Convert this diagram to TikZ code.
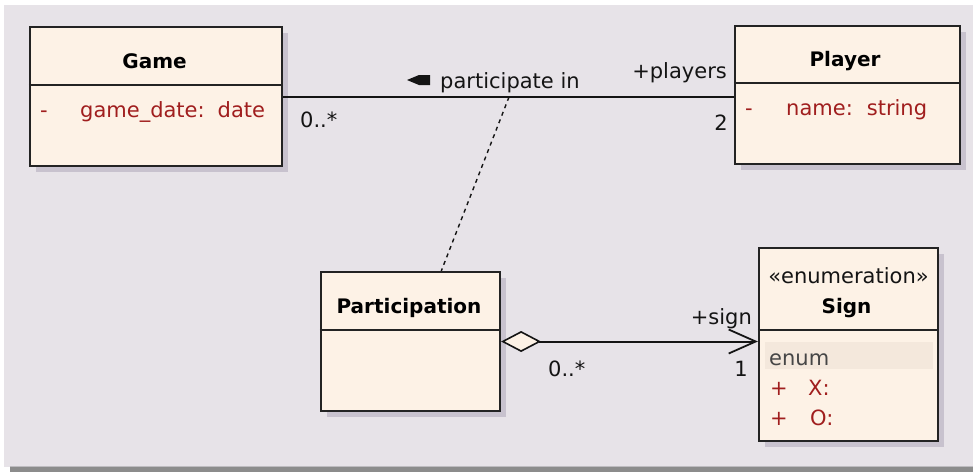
\documentclass[tikz,border=0pt]{standalone}
\usepackage{fontspec}
\setmainfont{DejaVu Sans}
\usetikzlibrary{arrows.meta,shadows,calc}
\definecolor{bgc}{RGB}{231,227,232}
\definecolor{boxfill}{RGB}{253,242,230}
\definecolor{boxline}{RGB}{35,35,35}
\definecolor{shadowc}{RGB}{200,194,206}
\definecolor{attrc}{RGB}{160,30,30}
\definecolor{enumbg}{RGB}{244,232,220}
\definecolor{enumtc}{RGB}{70,70,70}
\definecolor{bandc}{RGB}{140,140,140}
\definecolor{bandlt}{RGB}{190,188,192}
\definecolor{labc}{RGB}{20,20,20}
\begin{document}
\begin{tikzpicture}[x=1pt,y=-1pt,
  classbox/.style={draw=boxline, line width=2.2pt, fill=boxfill, rectangle, inner sep=0pt,
    general shadow={fill=shadowc, shadow xshift=6pt, shadow yshift=-6pt}},
  sepline/.style={draw=boxline, line width=1.8pt},
  titletext/.style={font=\fontsize{20}{24}\selectfont\bfseries, text=black, inner sep=0pt, anchor=base},
  regtext/.style={font=\fontsize{21}{25}\selectfont, text=labc, inner sep=0pt},
  attrtext/.style={font=\fontsize{21}{25}\selectfont, text=attrc, inner sep=0pt, anchor=base west},
  assoc/.style={draw=labc, line width=2pt},
  depline/.style={draw=labc, line width=1.4pt, dash pattern=on 4pt off 4pt},
  aggr/.style={draw=labc, line width=2pt,
    {Diamond[fill=boxfill, length=40pt, width=21pt, line width=1.6pt]}-{Straight Barb[length=27pt, width=24pt, line width=1.8pt]}}
]
\useasboundingbox (0,0) rectangle (973,472);
\fill[white] (0,0) rectangle (973,472);
\fill[bgc] (4,5) rectangle (973,467);
\fill[bandc] (10,467) rectangle (973,472);
\fill[bandlt] (10,465.5) rectangle (973,467);

% boxes
\node[classbox, minimum width=252pt, minimum height=139pt] (game) at (156,96.5) {};
\node[classbox, minimum width=225pt, minimum height=138pt] (player) at (847.5,95) {};
\node[classbox, minimum width=179pt, minimum height=139pt] (part) at (410.5,341.5) {};
\node[classbox, minimum width=179pt, minimum height=193pt] (sign) at (848.5,344.5) {};

% separators
\draw[sepline] (game.west |- 0,85) -- (game.east |- 0,85);
\draw[sepline] (player.west |- 0,83) -- (player.east |- 0,83);
\draw[sepline] (part.west |- 0,330) -- (part.east |- 0,330);
\draw[sepline] (sign.west |- 0,330) -- (sign.east |- 0,330);

% enum highlight
\fill[enumbg] (765,342) rectangle (933,369);

% titles
\node[titletext] (gameT) at (154.5,68) {Game};
\node[titletext] (playerT) at (845,66) {Player};
\node[titletext] (partT) at (409,313) {Participation};
\node[regtext, anchor=base] (stereo) at (848.5,283) {«enumeration»};
\node[titletext] (signT) at (846.5,313) {Sign};

% attributes
\node[attrtext] (gameM) at (40,117) {-};
\node[attrtext] (gameA) at (80,117) {game\_date:\hspace{13pt}date};
\node[attrtext] (playerM) at (745,115) {-};
\node[attrtext] (playerA) at (786,115) {name:\hspace{14pt}string};
\node[regtext, anchor=base west, text=enumtc] (enumL) at (769,365) {enum};
\node[attrtext] (xM) at (770,395) {+};
\node[attrtext] (xA) at (808,395) {X:};
\node[attrtext] (oM) at (770,425) {+};
\node[attrtext] (oA) at (810,425) {O:};

% association Game - Player
\draw[assoc] (game.east) -- (game.east -| player.west);
\coordinate (amid) at (509,97);
\fill[labc] (407,80) -- (419,75) -- (430,75) -- (430,85) -- (419,85) -- cycle;
\node[regtext, anchor=base west] (assocL) at (440,88) {participate in};
\node[regtext, anchor=base east] (rolePl) at (727,78) {+players};
\node[regtext, anchor=base west] (multG) at (300,127) {0..*};
\node[regtext, anchor=base east] (multP) at (728,130) {2};

% association class link
\draw[depline] (amid) -- ($(part.north west)!0.67!(part.north east)$);

% aggregation Participation - Sign
\draw[aggr] (part.east) -- (part.east -| sign.west);
\node[regtext, anchor=base east] (roleS) at (752,324) {+sign};
\node[regtext, anchor=base west] (multPa) at (548,376) {0..*};
\node[regtext, anchor=base east] (multS) at (748,376) {1};
\end{tikzpicture}
\end{document}
